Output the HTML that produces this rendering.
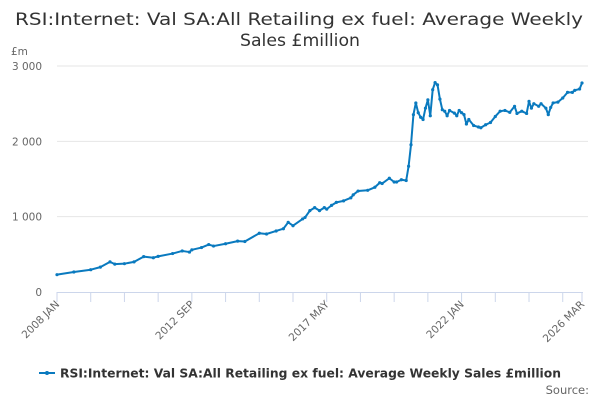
<!DOCTYPE html>
<html><head><meta charset="utf-8"><style>
body{margin:0;background:#fff;}
svg{display:block;font-family:"DejaVu Sans","Liberation Sans",sans-serif;}
</style></head><body>
<svg id="chart" width="600" height="400" xmlns="http://www.w3.org/2000/svg">
<text x="299" y="25" text-anchor="middle" font-size="16.5" fill="#333" textLength="568" lengthAdjust="spacingAndGlyphs">RSI:Internet: Val SA:All Retailing ex fuel: Average Weekly</text>
<text x="300" y="46" text-anchor="middle" font-size="16.5" fill="#333" textLength="120" lengthAdjust="spacingAndGlyphs">Sales £million</text>
<text x="11" y="55" font-size="10.5" fill="#666">£m</text>
<g id="grid"></g><g id="xaxis"></g><g id="series"></g>
<g>
<line x1="39" y1="373" x2="55" y2="373" stroke="#0a7abf" stroke-width="2"/>
<circle cx="47" cy="373" r="2" fill="#0a7abf"/>
<text x="60" y="377.5" font-size="12.5" font-weight="bold" fill="#333" textLength="501" lengthAdjust="spacingAndGlyphs">RSI:Internet: Val SA:All Retailing ex fuel: Average Weekly Sales £million</text>
</g>
<text x="589" y="394" text-anchor="end" font-size="11.5" fill="#666">Source:</text>
</svg>
<script>
const months=[0,7,14,18,22,24,28,32,36,40,42,48,52,55,56,60,63,65,70,75,78,84,87,91,94,96,98,102,103,105,107,109,111,112,114,116,119,122,123,125,129,132,134,135,138,140,141,143,145,146,147,148,149,150,151,152,153,154,155,156,157,158,159,160,161,162,163,165,166,167,168,169,170,171,173,175,176,178,180,182,184,186,188,190,191,193,195,196,197,198,200,201,203,204,205,206,208,210,212,214,215,217,218];
const values=[230,265,296,330,400,370,376,400,470,455,473,510,545,530,560,590,630,610,640,675,670,780,770,810,840,925,880,970,990,1080,1120,1080,1120,1100,1150,1190,1210,1250,1290,1340,1350,1390,1450,1440,1510,1460,1460,1490,1480,1670,1955,2354,2509,2380,2320,2290,2440,2550,2340,2685,2780,2750,2560,2420,2400,2340,2410,2375,2340,2410,2380,2355,2230,2290,2210,2190,2180,2220,2250,2330,2400,2410,2385,2465,2370,2400,2370,2530,2440,2500,2465,2500,2440,2355,2450,2510,2520,2575,2650,2650,2677,2695,2775];
const yTicks=[0,1000,2000,3000];
const yTickLabels=["0","1 000","2 000","3 000"];
const xLabelMonths=[0,56,112,168,218];
const xLabels=["2008 JAN","2012 SEP","2017 MAY","2022 JAN","2026 MAR"];
const NS="http://www.w3.org/2000/svg";
const X0=57,X1=582,Y0=292,Y1=66,MMAX=218,VMAX=3000;
const xs=m=>X0+(X1-X0)*m/MMAX;
const ys=v=>Y0-(Y0-Y1)*v/VMAX;
function mk(t,a,p){const e=document.createElementNS(NS,t);for(const k in a)e.setAttribute(k,a[k]);p.appendChild(e);return e;}
const grid=document.getElementById('grid');
yTicks.forEach((v,i)=>{
 if(v>0){const l=mk('line',{x1:X0,x2:588,y1:ys(v),y2:ys(v),stroke:'#e6e6e6'},grid);
 
 }
 const t=mk('text',{x:42,y:ys(v)+4,'text-anchor':'end','font-size':10.5,fill:'#666'},grid);
 
 
 t.textContent=yTickLabels[i];
});
const xa=document.getElementById('xaxis');
const ax=mk('line',{x1:X0,x2:X1+1,y1:Y0+0.5,y2:Y0+0.5,stroke:'#ccd6eb'},xa);


for(let m=0;m<=MMAX;m+=14){const tk=mk('line',{x1:xs(m),x2:xs(m),y1:Y0,y2:Y0+10,stroke:'#ccd6eb'},xa);
 
 }
const lt=mk('line',{x1:xs(MMAX),x2:xs(MMAX),y1:Y0,y2:Y0+10,stroke:'#ccd6eb'},xa);


xLabelMonths.forEach((m,i)=>{const x=xs(m)+3,y=Y0+13;
 const t=mk('text',{x:x,y:y,'text-anchor':'end','font-size':10.5,fill:'#666',transform:`rotate(-45 ${x} ${y})`},xa);
 
 
 t.textContent=xLabels[i];});
const s=document.getElementById('series');
const pl=mk('polyline',{points:months.map((m,i)=>xs(m)+','+ys(values[i])).join(' '),fill:'none',stroke:'#0a7abf','stroke-width':2,'stroke-linejoin':'round'},s);


months.forEach((m,i)=>{const c=mk('circle',{cx:xs(m),cy:ys(values[i]),r:1.6,fill:'#0a7abf'},s);
 
 });
</script>
</body></html>
